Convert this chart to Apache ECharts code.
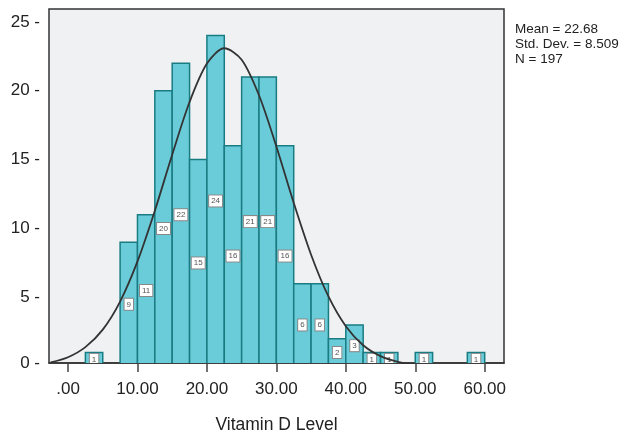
<!DOCTYPE html>
<html>
<head>
<meta charset="utf-8">
<script src="https://cdn.jsdelivr.net/npm/echarts@6/dist/echarts.min.js"></script>
<style>
  html, body { margin: 0; padding: 0; background: #fff; }
  #main { width: 624px; height: 433px; }
</style>
</head>
<body>
<div id="main"></div>
<script>
// histogram bins (lower edge) and counts, width 2.5
var binStart = [2.5, 5, 7.5, 10, 12.5, 15, 17.5, 20, 22.5, 25, 27.5, 30, 32.5, 35, 37.5, 40, 42.5, 45, 47.5, 50, 52.5, 55, 57.5];
var binCount = [1, 0, 9, 11, 20, 22, 15, 24, 16, 21, 21, 16, 6, 6, 2, 3, 1, 1, 0, 1, 0, 0, 1];
var binWidth = 2.5;

// normal curve
var curveX = [-2.5, 0, 2.5, 5, 7.5, 10, 12.5, 15, 17.5, 20, 22.5, 25, 27.5, 30, 32.5, 35, 37.5, 40, 42.5, 45, 47.5, 50, 52.5, 55, 57.5, 60, 62.5];
var curveY = [0.29, 0.66, 1.39, 2.66, 4.70, 7.61, 11.29, 15.36, 19.18, 21.97, 23.08, 22.25, 19.67, 15.95, 11.86, 8.10, 5.07, 2.91, 1.53, 0.74, 0.33, 0.13, 0.05, 0.02, 0.01, 0, 0];

var xTicks = [0, 10, 20, 30, 40, 50, 60];
var yTicks = [0, 5, 10, 15, 20, 25];
var statsLines = ["Mean = 22.68", "Std. Dev. = 8.509", "N = 197"];

// the plot frame cuts the baseline slightly (as in SPSS output)
var yMin = 0.24;
var yMax = 25.93;

var FONT = "'Liberation Sans', Arial, sans-serif";

var barData = binStart.map(function (s, i) { return [s, binCount[i]]; });
var lineData = curveX.map(function (x, i) { return [x, curveY[i]]; });

var myChart = echarts.init(document.getElementById("main"));

var option = {
  animation: false,
  title: {
    text: statsLines.join("\n"),
    left: 510,
    top: 17,
    textStyle: {
      fontFamily: FONT,
      fontSize: 13.5,
      fontWeight: "normal",
      color: "#222",
      lineHeight: 15
    }
  },
  grid: {
    left: 49,
    right: 120,
    top: 9,
    bottom: 70,
    outerBoundsMode: "none",
    show: true,
    backgroundColor: "#f0f1f3",
    borderColor: "#333",
    borderWidth: 1.5
  },
  xAxis: {
    type: "value",
    min: -2.74,
    max: 62.78,
    name: "Vitamin D Level",
    nameLocation: "middle",
    nameGap: 53,
    nameTextStyle: { fontFamily: FONT, fontSize: 17.5, color: "#222" },
    splitLine: { show: false },
    axisLine: { show: true, onZero: false, lineStyle: { color: "#333", width: 1.5 } },
    axisTick: {
      show: true,
      length: 9,
      customValues: xTicks,
      lineStyle: { color: "#444", width: 1.5 }
    },
    axisLabel: {
      customValues: xTicks,
      margin: 18,
      fontFamily: FONT,
      fontSize: 17,
      color: "#222",
      formatter: function (v) {
        return v === 0 ? ".00" : v.toFixed(2);
      }
    }
  },
  yAxis: {
    type: "value",
    min: yMin,
    max: yMax,
    splitLine: { show: false },
    axisLine: { show: false },
    axisTick: { show: false },
    axisLabel: {
      customValues: yTicks.map(function (v) { return Math.max(v, yMin); }),
      margin: 9,
      fontFamily: FONT,
      fontSize: 17,
      color: "#222",
      formatter: function (v) {
        return Math.round(v) + " -";
      }
    }
  },
  series: [
    {
      name: "count",
      type: "custom",
      clip: true,
      data: barData,
      renderItem: function (params, api) {
        var start = api.value(0);
        var cnt = api.value(1);
        if (!cnt) return null;
        var p0 = api.coord([start, 0]);
        var p1 = api.coord([start + binWidth, cnt]);
        var top = Math.min(p0[1], p1[1]);
        return {
          type: "rect",
          shape: { x: p0[0], y: top, width: p1[0] - p0[0], height: Math.abs(p0[1] - p1[1]) },
          style: { fill: "#6bccd9", stroke: "#1a7c83", lineWidth: 1.5 },
          textContent: {
            style: {
              text: String(cnt),
              fontFamily: FONT,
              fontSize: 8,
              fill: "#555",
              backgroundColor: "#fff",
              borderColor: "#888",
              borderWidth: 1,
              padding: [2, 2, 1, 2]
            }
          },
          textConfig: { position: "inside" }
        };
      }
    },
    {
      name: "normal",
      type: "line",
      smooth: 0.3,
      showSymbol: false,
      data: lineData,
      z: 5,
      lineStyle: { color: "#333", width: 1.8 }
    }
  ]
};

myChart.setOption(option);
</script>
</body>
</html>
